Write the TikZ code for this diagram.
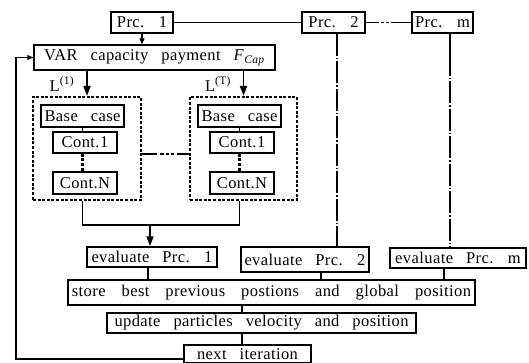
\documentclass[tikz,border=0pt]{standalone}
\usepackage{fontspec}
\setmainfont{Liberation Serif}[LetterSpace=2.5]
\usetikzlibrary{arrows.meta,positioning,calc}
\newcommand\flowfont{\fontsize{16.5}{18}\selectfont\spaceskip=13pt plus 3pt\relax}
\newcommand\widefont{\fontsize{16.5}{18}\selectfont\spaceskip=16pt plus 3pt\relax}

\begin{document}
\begin{tikzpicture}[
    x=1pt, y=-1pt,
    every node/.style={font=\flowfont, inner sep=0pt, align=center},
    box/.style 2 args={draw, line width=1.5pt, minimum width=#1, minimum height=#2},
    groupbox/.style 2 args={draw, line width=2.2pt, dash pattern=on 3pt off 1.6pt,
                            minimum width=#1, minimum height=#2},
    link/.style={draw, line width=1.8pt},
    thinlink/.style={draw, line width=1.2pt},
    bigarrow/.style={link, -{Triangle[length=10pt,width=7pt]}},
    smallarrow/.style={thinlink, -{Triangle[length=6pt,width=5pt]}},
    procline/.style={draw, line width=2.2pt, dash pattern=on 22pt off 2pt on 1.5pt off 2pt},
    skipline/.style={draw, line width=1.2pt,
                     dash pattern=on 13pt off 2pt on 3pt off 2pt on 3pt off 2pt on 40pt off 0pt},
    groupskip/.style={draw, line width=1.6pt,
                      dash pattern=on 15pt off 3pt on 4pt off 2pt on 3pt off 2pt on 3pt off 3pt on 40pt off 0pt},
    contline/.style={draw, line width=2.2pt, dash pattern=on 3pt off 1.6pt},
]
\useasboundingbox (0,0) rectangle (529,362);

% processes
\node[box={62pt}{21pt}] (prc1) at (142,22.5) {Prc. 1};
\node[box={63pt}{21pt}] (prc2) at (333.5,22.5) {Prc. 2};
\node[box={61pt}{21pt}] (prcm) at (442.5,22.5) {Prc. m};
\node[box={241pt}{25pt}] (var) at (154.5,57.5) {VAR capacity payment \textit{F}\textsubscript{\textit{Cap}}};

% scenario groups
\node[groupbox={108pt}{103pt}] (grp1) at (87,148.5) {};
\node[groupbox={107pt}{103pt}] (grpT) at (243.5,148.5) {};
\node[box={83pt}{22pt}] (base1) at (82.5,116) {Base case};
\node[box={64pt}{21pt}] (cont1a) at (85,142.5) {Cont.1};
\node[box={64pt}{22pt}] (contNa) at (85,183) {Cont.N};
\node[box={83pt}{22pt}] (baseT) at (239.5,116) {Base case};
\node[box={64pt}{21pt}] (cont1b) at (242,142.5) {Cont.1};
\node[box={64pt}{22pt}] (contNb) at (242,183) {Cont.N};
\node (lab1) at (62,84) {L\textsuperscript{(1)}};
\node (labT) at (218,84) {L\textsuperscript{(T)}};

% evaluation and update
\node[box={130pt}{20pt}] (eval1) at (152,257) {evaluate Prc. 1};
\node[box={128pt}{25pt}] (eval2) at (305,259.5) {evaluate Prc. 2};
\node[box={136pt}{20pt}] (evalm) at (458,258) {evaluate Prc. m};
\node[box={407pt}{25pt}, font=\widefont] (store) at (271.5,292.5) {store best previous postions and global position};
\node[box={309pt}{20pt}] (update) at (261.5,323) {update particles velocity and position};
\node[box={127pt}{18pt}] (next) at (247.5,354) {next iteration};

\coordinate (merge) at (150,225);
\coordinate (spine) at (242,0);
\coordinate (loop) at (16,0);
\coordinate (loopstart) at ($(next.west)+(0,5)$);
\coordinate (tap1) at ($(eval1.south)+(-4,0)$);
\coordinate (tap2) at ($(eval2.south)+(16,0)$);
\coordinate (tapm) at ($(evalm.south)+(-14,0)$);
\coordinate (drop2) at ($(prc2.south)+(3.5,0)$);
\coordinate (dropm) at ($(prcm.south)+(7.5,0)$);
\coordinate (dropm2) at ($(dropm)+(0,20)$);

% connectors
\draw[thinlink] (prc1) -- (prc2);
\draw[skipline] (prc2.east) -- (prcm.west);
\draw[smallarrow] (prc1) -- (prc1 |- var.north);
\draw[bigarrow] (var.south -| grp1) -- (grp1.north);
\draw[bigarrow] (var.south -| grpT) -- (grpT.north);
\draw[thinlink] (base1.south) -- (base1.south |- cont1a.north);
\draw[contline] (base1.south |- cont1a.south) -- (base1.south |- contNa.north);
\draw[thinlink] (baseT.south) -- (baseT.south |- cont1b.north);
\draw[contline] (baseT.south |- cont1b.south) -- (baseT.south |- contNb.north);
\draw[groupskip] (grp1.east |- cont1a.south) -- (grpT.west |- cont1a.south);
\draw[link] (grp1.south -| base1) |- (merge) -| (grpT.south -| baseT);
\draw[bigarrow] (merge) -- (merge |- eval1.north);
\draw[procline] (drop2) -- (drop2 |- eval2.north);
\draw[thinlink] (dropm) -- (dropm2);
\draw[procline] (dropm2) -- (dropm2 |- evalm.north);
\draw[thinlink] (tap1) -- (tap1 |- store.north);
\draw[thinlink] (tap2) -- (tap2 |- store.north);
\draw[thinlink] (tapm) -- (tapm |- store.north);
\draw[thinlink] (store.south -| spine) -- (update.north -| spine);
\draw[thinlink] (update.south -| spine) -- (next.north -| spine);
\draw[smallarrow] (loopstart) -| (loop |- var.west) -- (var.west);
\end{tikzpicture}
\end{document}
